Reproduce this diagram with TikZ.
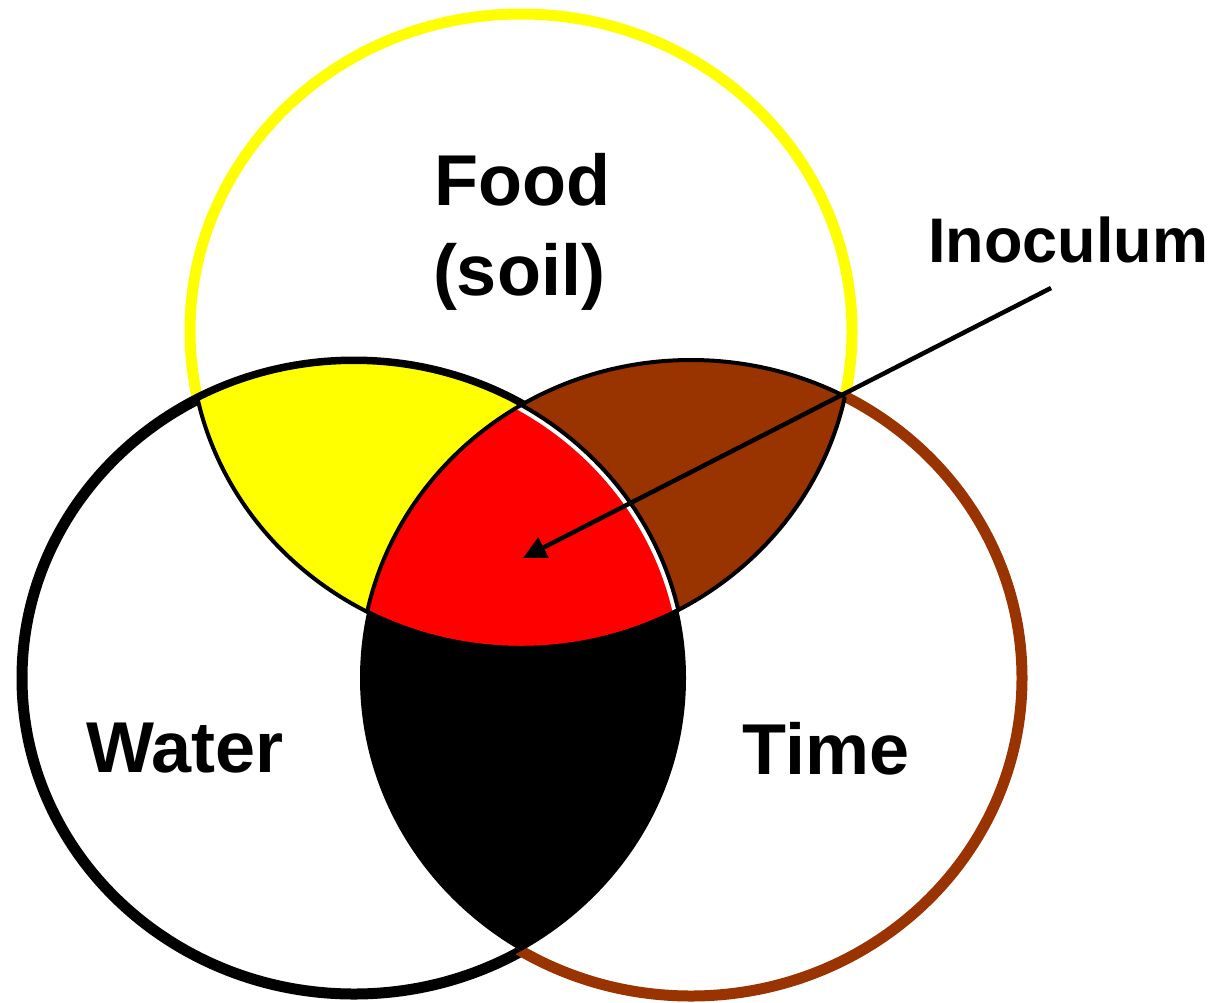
\documentclass[tikz,border=0pt]{standalone}
\usepackage{fontspec}
\setmainfont{Liberation Sans}
\usetikzlibrary{arrows.meta}
\definecolor{timebrown}{HTML}{993300}
\definecolor{foodyellow}{HTML}{FFFF00}
\definecolor{allred}{HTML}{FF0000}
\tikzset{
  foodpath/.style={insert path={(521,331) ellipse [x radius=331, y radius=317]}},
  waterpath/.style={insert path={(354,678) ellipse [x radius=332, y radius=316]}},
  timepath/.style={insert path={(691,678) ellipse [x radius=331, y radius=318]}},
  framepath/.style={insert path={(0,0) rectangle (1214,1002)}},
  thickring/.style={line width=11pt},
  thinline/.style={line width=4pt, draw=black},
  lbl/.style={font=\bfseries\fontsize{72}{80}\selectfont, inner sep=0pt, anchor=base},
  lblsmall/.style={font=\bfseries\fontsize{63}{70}\selectfont, inner sep=0pt, anchor=base},
  pointer/.style={line width=4.5pt, -{Triangle[length=23pt, width=22pt]}}
}
\begin{document}
\begin{tikzpicture}[x=1pt, y=-1pt]
\useasboundingbox[fill=white] (0,0) rectangle (1214,1002);

% thick rings, each only where it is outside the other circles
\begin{scope}[even odd rule]
  \clip[framepath, waterpath];
  \clip[framepath, timepath];
  \draw[thickring, draw=foodyellow, foodpath];
\end{scope}
\begin{scope}[even odd rule]
  \clip[framepath, timepath];
  \draw[thickring, draw=black, waterpath];
\end{scope}
\begin{scope}[even odd rule]
  \clip[framepath, waterpath];
  \clip[framepath, foodpath];
  \draw[thickring, draw=timebrown, timepath];
\end{scope}

% region fills
\begin{scope}[even odd rule]% food + water only
  \clip[foodpath]; \clip[waterpath];
  \clip[framepath, timepath];
  \fill[foodyellow, framepath];
\end{scope}
\begin{scope}[even odd rule]% food + time only
  \clip[foodpath]; \clip[timepath];
  \clip[framepath, waterpath];
  \fill[timebrown, framepath];
\end{scope}
\begin{scope}[even odd rule]% water + time only
  \clip[waterpath]; \clip[timepath];
  \clip[framepath, foodpath];
  \fill[black, framepath];
\end{scope}
\begin{scope}% all three
  \clip[foodpath]; \clip[waterpath]; \clip[timepath];
  \fill[allred, framepath];
  \draw[line width=12pt, draw=white, waterpath];
\end{scope}

% thin outlines of the coloured regions
\begin{scope}
  \clip[waterpath];
  \draw[thinline, foodpath];
\end{scope}
\begin{scope}
  \clip[timepath];
  \draw[thinline, foodpath];
\end{scope}
\begin{scope}
  \clip[foodpath];
  \draw[thinline, waterpath];
  \draw[thinline, timepath];
\end{scope}

% labels
\node[lbl] (food) at (522,205) {Food};
\node[lbl] (soil) at (519,295) {(soil)};
\node[lbl] (water) at (185,772) {Water};
\node[lbl] (time) at (826,774) {Time};
\node[lblsmall] (inoculum) at (1068,262) {Inoculum};

% pointer
\coordinate (inocstart) at (1051,288);
\coordinate (inoctip) at (523,558);
\draw[pointer] (inocstart) -- (inoctip);
\end{tikzpicture}
\end{document}
